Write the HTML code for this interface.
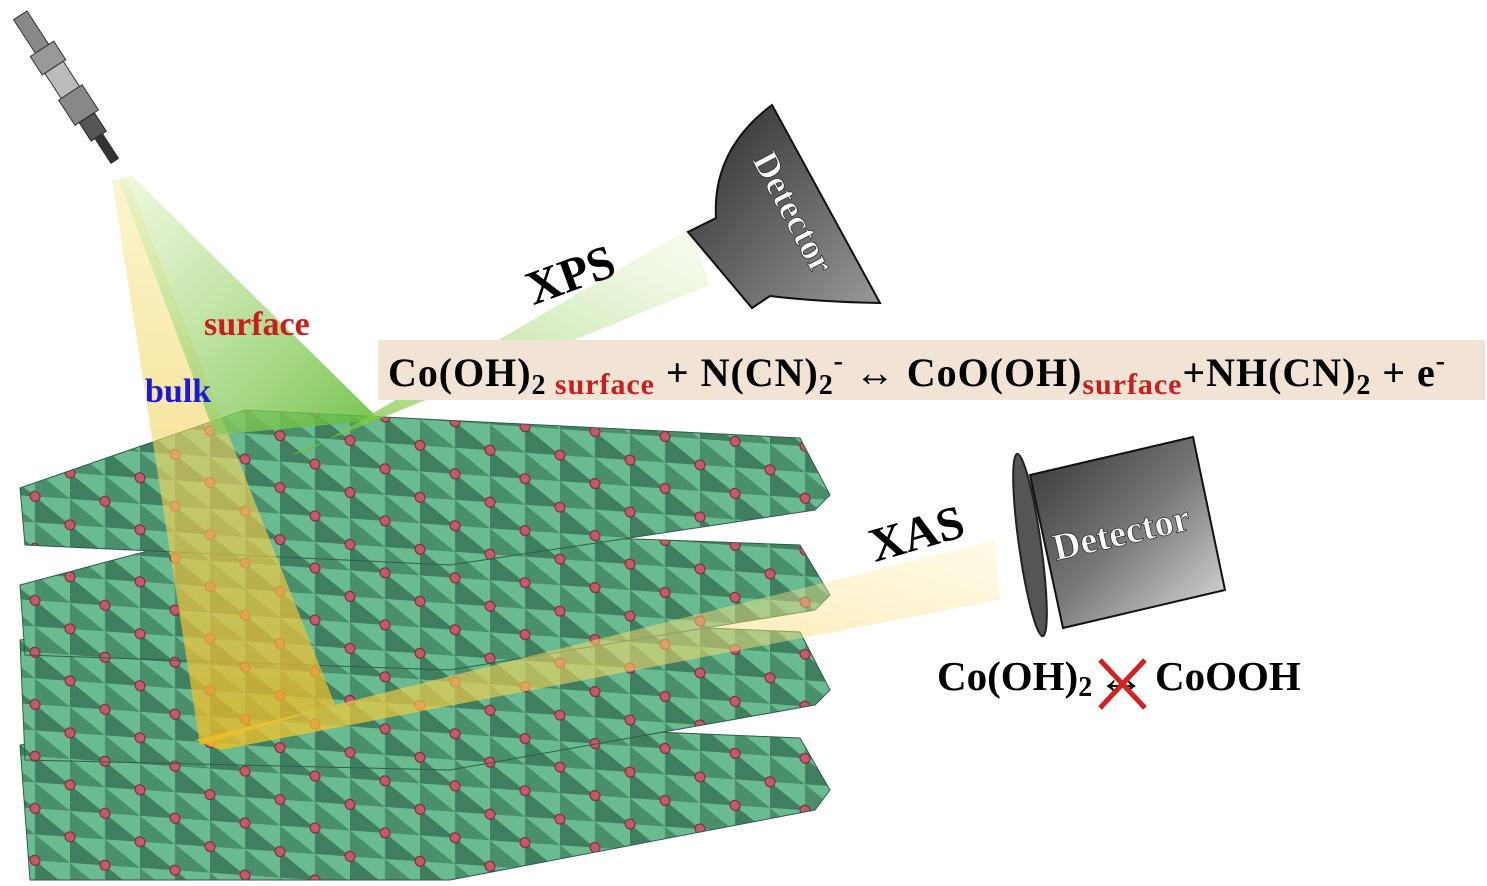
<!DOCTYPE html>
<html><head><style>
body{margin:0;background:#fff;width:1487px;height:886px;overflow:hidden}
svg{display:block}
.t{font-family:"Liberation Serif",serif;font-weight:bold}
</style></head><body>
<svg width="1487" height="886" viewBox="0 0 1487 886" xmlns="http://www.w3.org/2000/svg">
<defs>
<pattern id="oct" width="70" height="52" patternUnits="userSpaceOnUse" patternTransform="skewY(4)">
<rect width="70" height="52" fill="#6bbb92"/>
<polygon points="0,0 35,26 0,26" fill="#3f7f5f"/>
<polygon points="35,0 70,26 35,26" fill="#4a8f6c"/>
<polygon points="35,26 70,52 35,52" fill="#3f7f5f"/>
<polygon points="0,26 35,52 0,52" fill="#4a8f6c"/>
<circle cx="0" cy="0" r="5" fill="#c25a6c" stroke="#7a2636" stroke-width="1"/>
<circle cx="70" cy="0" r="5" fill="#c25a6c" stroke="#7a2636" stroke-width="1"/>
<circle cx="0" cy="52" r="5" fill="#c25a6c" stroke="#7a2636" stroke-width="1"/>
<circle cx="70" cy="52" r="5" fill="#c25a6c" stroke="#7a2636" stroke-width="1"/>
<circle cx="35" cy="26" r="5" fill="#c25a6c" stroke="#7a2636" stroke-width="1"/>
</pattern>
<linearGradient id="yb" x1="0" y1="0" x2="0" y2="1"><stop offset="0" stop-color="#f6ec9a" stop-opacity=".5"/><stop offset="1" stop-color="#f0b820" stop-opacity=".75"/></linearGradient>
<linearGradient id="gb" x1="0" y1="0" x2="1" y2="1"><stop offset="0" stop-color="#e8f4c8" stop-opacity=".6"/><stop offset="1" stop-color="#5cb82c" stop-opacity=".85"/></linearGradient>
<linearGradient id="xps" x1="0" y1="1" x2="1" y2="0"><stop offset="0" stop-color="#6cbf2c"/><stop offset="1" stop-color="#eef6d8" stop-opacity=".4"/></linearGradient>
<linearGradient id="xas" x1="0" y1="1" x2="1" y2="0"><stop offset="0" stop-color="#f0c020" stop-opacity=".8"/><stop offset="1" stop-color="#fbf0b0" stop-opacity=".3"/></linearGradient>
<linearGradient id="det" x1="0" y1="0" x2="1" y2="1"><stop offset="0" stop-color="#2a2a2a"/><stop offset="1" stop-color="#999"/></linearGradient>
<linearGradient id="det2" x1="0" y1="0" x2="1" y2="1"><stop offset="0" stop-color="#333"/><stop offset="0.5" stop-color="#777"/><stop offset="1" stop-color="#e0e0e0"/></linearGradient>
</defs>

<g stroke="#2e5e46" stroke-width="1">
<polygon points="20,745 245,715 800,738 830,790 815,810 450,880 30,880" fill="url(#oct)"/>
<polygon points="20,640 245,608 800,632 830,690 815,705 450,770 25,760" fill="url(#oct)"/>
<polygon points="20,585 245,525 800,545 830,595 815,610 450,670 25,655" fill="url(#oct)"/>
<polygon points="20,488 245,410 800,438 830,495 815,510 450,565 25,545" fill="url(#oct)"/>
</g>

<polygon points="112,180 128,180 335,705 200,745" fill="url(#yb)"/>
<polygon points="118,178 132,176 380,420 215,435" fill="url(#gb)"/>
<polygon points="290,455 310,450 690,228 710,285" fill="url(#xps)" opacity=".85"/>
<polygon points="195,740 220,750 1000,600 995,540" fill="url(#xas)"/>

<g transform="translate(72,95) rotate(-33)">
<rect x="-8" y="-95" width="16" height="40" fill="#888" stroke="#333"/>
<rect x="-14" y="-55" width="28" height="22" fill="#999" stroke="#333"/>
<rect x="-11" y="-33" width="22" height="30" fill="#bbb" stroke="#333"/>
<rect x="-14" y="-3" width="28" height="30" fill="#888" stroke="#333"/>
<rect x="-9" y="27" width="18" height="22" fill="#555" stroke="#222"/>
<rect x="-5" y="49" width="10" height="30" fill="#333"/>
</g>

<path d="M772,105 L880,303 Q 820,302 770,296 L752,308 L688,232 L716,218 Q 712,150 772,105 Z" fill="url(#det)" stroke="#111" stroke-width="2"/>
<text x="0" y="0" transform="translate(783,218) rotate(62)" text-anchor="middle" class="t" font-size="36" fill="#fff" stroke="#333" stroke-width=".8">Detector</text>

<polygon points="1030,475 1193,437 1225,590 1063,628" fill="url(#det2)" stroke="#111" stroke-width="2"/>
<ellipse cx="1030" cy="545" rx="11" ry="92" transform="rotate(-8 1030 545)" fill="#555" stroke="#222" stroke-width="2"/>
<text x="0" y="0" transform="translate(1124,545) rotate(-13)" text-anchor="middle" class="t" font-size="38" fill="#fff" stroke="#333" stroke-width=".8">Detector</text>

<text x="520" y="290" transform="rotate(-20 570 260)" class="t" font-size="48" fill="#000">XPS</text>
<text x="865" y="548" transform="rotate(-16 920 520)" class="t" font-size="48" fill="#000">XAS</text>
<text x="204" y="335" class="t" font-size="34" fill="#c81e1e">surface</text>
<text x="145" y="402" class="t" font-size="34" fill="#1818e0">bulk</text>

<rect x="378" y="340" width="1107" height="60" fill="#f2e4d4"/>
<text x="388" y="386" class="t" font-size="40" fill="#000" textLength="1057" lengthAdjust="spacing">Co(OH)<tspan font-size="28" dy="8">2</tspan><tspan fill="#c81e1e" font-size="30"> surface</tspan><tspan dy="-8"> + N(CN)</tspan><tspan font-size="28" dy="8">2</tspan><tspan font-size="28" dy="-24">-</tspan><tspan dy="16"> ↔ CoO(OH)</tspan><tspan fill="#c81e1e" font-size="30" dy="8">surface</tspan><tspan dy="-8">+NH(CN)</tspan><tspan font-size="28" dy="8">2</tspan><tspan dy="-8"> + e</tspan><tspan font-size="28" dy="-16">-</tspan></text>

<text x="937" y="690" class="t" font-size="41" fill="#000">Co(OH)<tspan font-size="28" dy="6">2</tspan></text>
<text x="1097" y="694" class="t" font-size="48" fill="#000">↔</text>
<text x="1155" y="690" class="t" font-size="41" fill="#000">CoOOH</text>
<path d="M1100,660 L1145,708 M1145,660 L1100,708" stroke="#d42020" stroke-width="5"/>
</svg>
</body></html>
